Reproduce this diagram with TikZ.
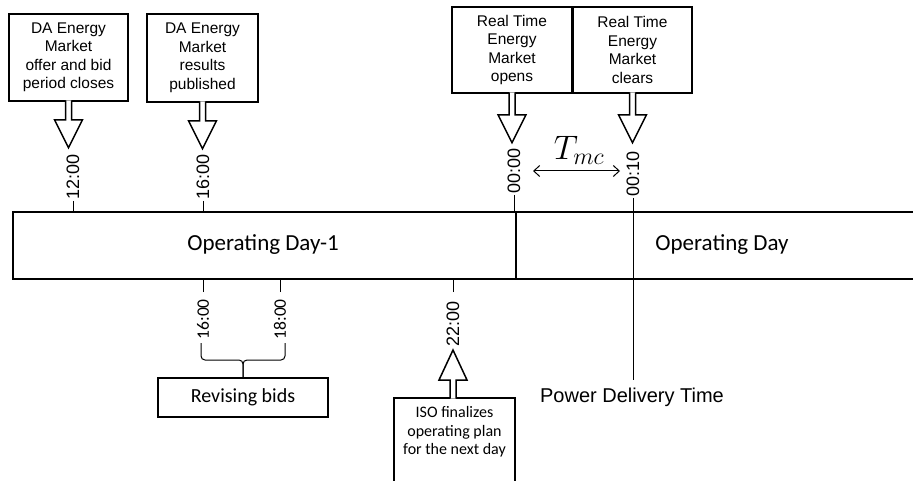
\RequirePackage{fix-cm}
\documentclass[tikz,border=0pt]{standalone}
\usepackage{fontspec}
\setmainfont{Liberation Sans}
\newfontfamily\calib{Carlito}
\usetikzlibrary{arrows.meta}
\newcommand\HArrowDown[2]{\draw[harrow] (#1.south) ++(-3,-1.5) -- ++(0,#2+1.5) -- ++(-11,0) -- ++(14,28) -- ++(14,-28) -- ++(-11,0) -- ++(0,-#2-1.5);}
\begin{document}
\begin{tikzpicture}[x=1pt,y=-1pt,
  box/.style={draw, line width=1.6pt, align=center, inner sep=0pt, font=\fontsize{15.5}{18.5}\selectfont},
  harrow/.style={draw, line width=1.5pt, fill=white, line join=miter},
  tick/.style={line width=0.8pt},
  tl/.style={rotate=90, inner sep=1pt, font=\fontsize{18}{20}\selectfont},
  cl/.style={rotate=90, inner sep=1pt, font=\calib\fontsize{17.5}{20}\selectfont},
  bracestyle/.style={line width=1pt, rounded corners=4pt}]
\useasboundingbox (0,0) rectangle (913,481);
\fill[white] (0,0) rectangle (913,481);

% top boxes
\node[box, minimum width=119pt, minimum height=87pt] (b1) at (68.5,57.5) {DA Energy\\Market\\offer and bid\\period closes};
\node[box, minimum width=111pt, minimum height=88pt] (b2) at (202.5,58) {DA Energy\\Market\\results\\published};
\node[box, minimum width=120pt, minimum height=86pt] (b3) at (512,50) {Real Time\\Energy\\Market\\opens};
\node[box, minimum width=119pt, minimum height=86pt] (b4) at (632.5,50) {Real Time\\Energy\\Market\\clears};

\HArrowDown{b1}{18}
\HArrowDown{b2}{18}
\HArrowDown{b3}{21}
\HArrowDown{b4}{21}

% bar
\coordinate (bartop) at (13,212);
\coordinate (barbot) at (13,279);
\coordinate (div) at (516,212);
\draw[line width=1.5pt] (920,212) -- (bartop) -- (barbot) -- (920,279);
\draw[line width=2.2pt] (div) -- (div |- barbot);
\node[font=\calib\fontsize{23}{25}\selectfont] (od1) at (263,245) {Operating Day-1};
\node[font=\calib\fontsize{23}{25}\selectfont] (od) at (722,245) {Operating Day};

% top time labels
\node[tl, anchor=west] (l12) at (73,201) {12:00};
\node[tl, anchor=west] (l16t) at (203,201) {16:00};
\node[tl, anchor=west] (l00) at (514,195) {00:00};
\node[tl, anchor=west] (l10) at (633,198) {00:10};
\draw[tick] (l12.west) -- (l12.west |- bartop);
\draw[tick] (l16t.west) -- (l16t.west |- bartop);
\draw[tick] (l00.west) -- (l00.west |- bartop);
\coordinate (pend) at (633,380);
\draw[tick] (l10.west) -- (pend);

% T_mc
\coordinate (ta) at (533,171);
\coordinate (tb) at (620,171);
\draw[line width=1pt, {Straight Barb[length=6pt,width=11pt]}-{Straight Barb[length=6pt,width=11pt]}] (ta) -- (tb);
\node[font=\fontsize{34}{36}\selectfont] (tmc) at (579,150) {$T_{mc}$};

% bottom labels
\node[cl, anchor=east] (l16b) at (203,298) {16:00};
\node[cl, anchor=east] (l18b) at (280,298) {18:00};
\node[tl, anchor=east] (l22) at (453,300) {22:00};
\draw[tick] (l16b.east) ++(0,-6) -- (l16b.east |- barbot);
\draw[tick] (l18b.east) ++(0,-6) -- (l18b.east |- barbot);
\draw[tick] (l22.east) ++(0,-8) -- (l22.east |- barbot);

% revising bids
\node[draw, line width=1.6pt, minimum width=170pt, minimum height=39pt, inner sep=0pt, font=\calib\fontsize{20}{22}\selectfont] (rb) at (243,397.5) {Revising bids};
\coordinate (bl) at (201,343);
\coordinate (br) at (285,343);
\coordinate (bm) at (243,360);
\draw[bracestyle] (bl) |- (bm) -- (rb.north);
\draw[bracestyle] (br) |- (bm) -- (rb.north);

% ISO box
\node[draw, line width=1.6pt, minimum width=121pt, minimum height=110pt, inner sep=0pt, anchor=north] (iso) at (454.5,397) {};
\node[align=center, inner sep=0pt, font=\calib\fontsize{16}{18.5}\selectfont] (isot) at (454.5,432) {ISO finalizes\\operating plan\\for the next day};
\draw[harrow] (iso.north) ++(-4.5,1.5) -- ++(0,-18.5) -- ++(-11,0) -- ++(14,-30) -- ++(14,30) -- ++(-11,0) -- ++(0,18.5);

% power delivery
\node[font=\fontsize{20}{22}\selectfont] (pdt) at (632,397) {Power Delivery Time};
\end{tikzpicture}
\end{document}
